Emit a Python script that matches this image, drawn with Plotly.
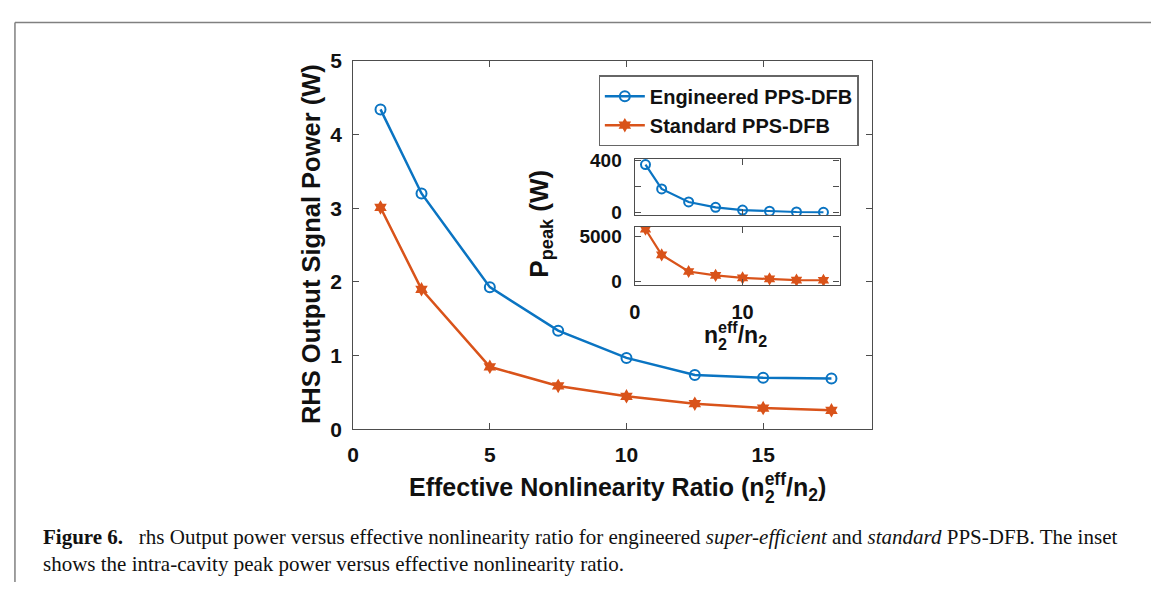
import plotly.graph_objects as go

W, H = 1151, 593

ratio = [1, 2.5, 5, 7.5, 10, 12.5, 15, 17.5]
engineered_power = [4.34, 3.20, 1.93, 1.34, 0.97, 0.74, 0.70, 0.69]
standard_power = [3.01, 1.90, 0.85, 0.59, 0.45, 0.35, 0.29, 0.26]
engineered_peak = [370, 181, 80, 38, 17, 8, 2, 0]
standard_peak = [5780, 2930, 1070, 640, 360, 250, 110, 100]

BLUE = "#0a74c2"
ORANGE = "#d9531a"
AX = "#4d4d4d"
FONT = "Liberation Sans, Arial, sans-serif"
SERIF = "Liberation Serif, Times New Roman, serif"

def px(x):
    return x / W

def py(y):
    return 1 - y / H

fig = go.Figure()

fig.add_trace(go.Scatter(x=ratio, y=engineered_power, name="Engineered PPS-DFB",
                         mode="lines+markers", line=dict(color=BLUE, width=2.5),
                         marker=dict(symbol="circle-open", size=10, line=dict(width=2, color=BLUE)),
                         xaxis="x", yaxis="y"))
fig.add_trace(go.Scatter(x=ratio, y=standard_power, name="Standard PPS-DFB",
                         mode="lines+markers", line=dict(color=ORANGE, width=2.5),
                         marker=dict(symbol="hexagram", size=11, color=ORANGE),
                         xaxis="x", yaxis="y"))
fig.add_trace(go.Scatter(x=ratio, y=engineered_peak, showlegend=False,
                         mode="lines+markers", line=dict(color=BLUE, width=2.2),
                         marker=dict(symbol="circle-open", size=9, line=dict(width=2, color=BLUE)),
                         xaxis="x2", yaxis="y2"))
fig.add_trace(go.Scatter(x=ratio, y=standard_peak, showlegend=False,
                         mode="lines+markers", line=dict(color=ORANGE, width=2.2),
                         marker=dict(symbol="hexagram", size=10, color=ORANGE),
                         xaxis="x3", yaxis="y3"))

def axstyle(size, standoff):
    return dict(showline=True, linecolor=AX, linewidth=1.3, mirror="ticks", ticks="inside",
                ticklen=6, tickcolor=AX, showgrid=False, zeroline=False,
                ticklabelstandoff=standoff,
                tickfont=dict(family=FONT, size=size, color="#111", weight="bold"))

inset_x = [px(632), px(838)]

fig.update_layout(
    width=W, height=H, autosize=False,
    margin=dict(l=0, r=0, t=0, b=0),
    paper_bgcolor="white", plot_bgcolor="white",
    xaxis=dict(domain=[px(349), px(871)], range=[0, 19], tickvals=[0, 5, 10, 15],
               anchor="y", **axstyle(21, 6)),
    yaxis=dict(domain=[py(434.3), py(50.7)], range=[0, 5], tickvals=[0, 1, 2, 3, 4, 5],
               anchor="x", **axstyle(21, 6)),
    xaxis2=dict(domain=inset_x, range=[0, 19], tickvals=[0, 10], showticklabels=False,
                anchor="y2", **axstyle(19, 8)),
    yaxis2=dict(domain=[py(211.7), py(152.7)], range=[-25, 415], tickvals=[0, 200, 400],
                ticktext=["0", "", "400"], anchor="x2", **axstyle(19, 8)),
    xaxis3=dict(domain=inset_x, range=[0, 19], tickvals=[0, 10], anchor="y3", **axstyle(20, 9)),
    yaxis3=dict(domain=[py(284), py(223.3)], range=[-430, 6070], tickvals=[0, 5000],
                anchor="x3", **axstyle(19, 8)),
    legend=dict(x=px(857), y=py(66), xanchor="right", yanchor="top",
                bordercolor="#666", borderwidth=1.3, bgcolor="white",
                font=dict(family=FONT, size=20, color="#111", weight="bold"),
                tracegroupgap=0, itemwidth=40),
    showlegend=True,
)

bold = dict(family=FONT, color="#111", weight="bold")

annotations = [
    # main y title
    dict(x=px(306), y=py(241), text="RHS Output Signal Power (W)", textangle=-90,
         font=dict(size=25.5, **bold)),
    # main x title (the subscript 2 under "eff" is added separately)
    dict(x=px(615), y=py(494), text="Effective Nonlinearity Ratio (n<sup>eff</sup>/n<sub>2</sub>)",
         font=dict(size=25, **bold)),
    dict(x=px(761), y=py(505), text="2", xanchor="left",
         font=dict(size=17.5, **bold)),
    # inset y title
    dict(x=px(537), y=py(220), text="P<sub>peak</sub> (W)", textangle=-90,
         font=dict(size=26, **bold)),
    # inset x title
    dict(x=px(733), y=py(335), text="n<sup>eff</sup>/n<sub>2</sub>",
         font=dict(size=23, **bold)),
    dict(x=px(714), y=py(345), text="2", xanchor="left",
         font=dict(size=16.1, **bold)),
    # caption
    dict(x=px(35), y=py(560), xanchor="left", yanchor="middle", align="left",
         text=("<b>Figure 6.</b>   rhs Output power versus effective nonlinearity ratio for engineered "
               "<i>super-efficient</i> and <i>standard</i> PPS-DFB. The inset<br>"
               "shows the intra-cavity peak power versus effective nonlinearity ratio."),
         font=dict(family=SERIF, size=21, color="#111")),
]
for a in annotations:
    a.setdefault("xref", "paper")
    a.setdefault("yref", "paper")
    a.setdefault("showarrow", False)
    a.setdefault("xanchor", "center")
    a.setdefault("yanchor", "middle")
fig.update_layout(annotations=annotations)

fig.add_shape(type="line", xref="paper", yref="paper", x0=px(9), x1=px(9), y0=py(11), y1=0,
              line=dict(color="#808080", width=1.5))
fig.add_shape(type="line", xref="paper", yref="paper", x0=px(9), x1=1, y0=py(11), y1=py(11),
              line=dict(color="#808080", width=1.5))

fig.write_html("out.html")
